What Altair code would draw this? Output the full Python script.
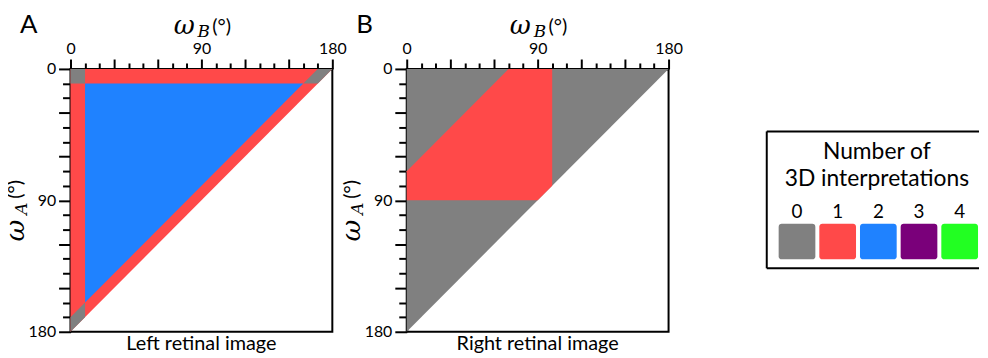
import altair as alt
import pandas as pd

# ---------------- data ----------------
TICKS = list(range(0, 181, 10))
COUNTS = [0, 1, 2, 3, 4]
COLORS = ["#808080", "#FF4949", "#1F82FF", "#7A007A", "#22FF22"]

# Panel A regions: omega_B breakpoints, omega_A lower / upper bounds, count
A_BASE_X, A_BASE_LO, A_BASE_HI = [0, 180], [0, 0], [180, 0]          # 1
A_BLUE_X, A_BLUE_LO, A_BLUE_HI = [10, 160], [10, 10], [160, 10]      # 2
A_G1_X, A_G1_LO, A_G1_HI = [0, 10], [0, 0], [10, 10]                 # 0
A_G2_X, A_G2_LO, A_G2_HI = [160, 170, 180], [10, 0, 0], [10, 10, 0]  # 0
A_G3_X, A_G3_LO, A_G3_HI = [0, 10], [170, 160], [180, 170]           # 0

# Panel B regions
B_BASE_X, B_BASE_LO, B_BASE_HI = [0, 180], [0, 0], [180, 0]                    # 0
B_RED_X, B_RED_LO, B_RED_HI = [0, 70, 90, 100], [70, 0, 0, 0], [90, 90, 90, 80]  # 1

SANS = "Lato"
SERIF = "DejaVu Serif"
W, H = 264, 265

XS = alt.Scale(domain=[0, 180], nice=False, zero=False)
YS = alt.Scale(domain=[0, 180], nice=False, zero=False, reverse=True)
LABEL_EXPR = "datum.value % 90 === 0 ? datum.label : ''"

XAX = alt.Axis(orient="top", values=TICKS, labelExpr=LABEL_EXPR, title=None,
               tickSize={"condition": {"test": "datum.value % 30 === 0", "value": 10}, "value": 6},
               tickWidth=2, tickColor="black", domainColor="black", domainWidth=2,
               labelFont=SANS, labelFontSize=16, labelColor="black", labelPadding=3,
               labelFlush=False, labelOverlap=False, grid=False)
YAX = alt.Axis(orient="left", values=TICKS, labelExpr=LABEL_EXPR, title=None,
               tickSize={"condition": {"test": "datum.value % 30 === 0", "value": 12}, "value": 8},
               tickWidth=2, tickColor="black", domainColor="black", domainWidth=2,
               labelFont=SANS, labelFontSize=16, labelColor="black", labelPadding=3,
               labelFlush=False, labelOverlap=False, grid=False)

one = pd.DataFrame({"a": [0]})


def region(xs, lo, hi, n):
    df = pd.DataFrame({"wB": xs, "lo": lo, "hi": hi})
    return alt.Chart(df).mark_area(color=COLORS[n], orient="vertical", interpolate="linear",
                                   opacity=1).encode(
        x=alt.X("wB:Q", scale=XS, axis=XAX),
        y=alt.Y("lo:Q", scale=YS, axis=YAX),
        y2="hi:Q",
    )


def label(text, x, y, size, font=SANS, style="normal", angle=0, align="left"):
    return alt.Chart(pd.DataFrame({"t": [text]})).mark_text(
        align=align, baseline="alphabetic", fontSize=size, font=font,
        fontStyle=style, angle=angle, color="black").encode(
        x=alt.value(x), y=alt.value(y), text="t:N")


def rule(x, x2, y, y2, width=2, color="black"):
    return alt.Chart(one).mark_rule(color=color, strokeWidth=width).encode(
        x=alt.value(x), x2=alt.value(x2), y=alt.value(y), y2=alt.value(y2))


def titles(letter, caption):
    return [
        label(letter, -51, -36, 26),
        label("ω", 104, -35, 26, SERIF, "italic"),
        label("B", 128, -32, 17, SERIF, "italic"),
        label("(°)", 143, -36, 20),
        label("ω", -47, 174, 27, SERIF, "italic", angle=270),
        label("A", -44, 147, 17, SERIF, "italic", angle=270),
        label("(°)", -49, 131, 20, angle=270),
        label(caption, W / 2, 283, 20, align="center"),
    ]


# invisible layout anchor at the top-left corner of the whole figure
anchor = rule(-80, -80, -70, -70, width=0, color="transparent")

panel_a = alt.layer(
    region(A_BASE_X, A_BASE_LO, A_BASE_HI, 1),
    region(A_BLUE_X, A_BLUE_LO, A_BLUE_HI, 2),
    region(A_G1_X, A_G1_LO, A_G1_HI, 0),
    region(A_G2_X, A_G2_LO, A_G2_HI, 0),
    region(A_G3_X, A_G3_LO, A_G3_HI, 0),
    *titles("A", "Left retinal image"),
    anchor,
).properties(width=W, height=H, view=alt.ViewBackground(stroke="black", strokeWidth=2))

panel_b = alt.layer(
    region(B_BASE_X, B_BASE_LO, B_BASE_HI, 0),
    region(B_RED_X, B_RED_LO, B_RED_HI, 1),
    *titles("B", "Right retinal image"),
).properties(width=W, height=H, view=alt.ViewBackground(stroke="black", strokeWidth=2))

# ---------------- legend panel ----------------
LW = 238

leg_df = pd.DataFrame({"n": COUNTS, "lab": [str(c) for c in COUNTS]})
band = alt.Scale(domain=COUNTS, range=[36, 237], paddingInner=4 / 41, paddingOuter=0)
swatches = alt.Chart(leg_df).mark_rect(cornerRadius=3).encode(
    x=alt.X("n:O", scale=band, axis=None),
    y=alt.value(156), y2=alt.value(192),
    color=alt.Color("n:O", scale=alt.Scale(domain=COUNTS, range=COLORS), legend=None),
)
digits = alt.Chart(leg_df).mark_text(fontSize=19, font=SANS, baseline="alphabetic",
                                     color="black").encode(
    x=alt.X("n:O", scale=band, axis=None), y=alt.value(150), text="lab:N")

legend = alt.layer(
    rule(24, LW, 63, 63), rule(24, 24, 63, 201), rule(24, LW, 201, 201),
    label("Number of", 135, 91, 23, align="center"),
    label("3D interpretations", 135, 118, 23, align="center"),
    digits, swatches,
).properties(width=LW, height=H)

chart = alt.hconcat(panel_a, panel_b, legend, spacing=75, bounds="flush").configure_view(
    stroke=None).properties(padding={"left": -18, "top": -11, "right": 0, "bottom": 0})

chart.save("out.html", embed_options={"renderer": "svg", "actions": False})
